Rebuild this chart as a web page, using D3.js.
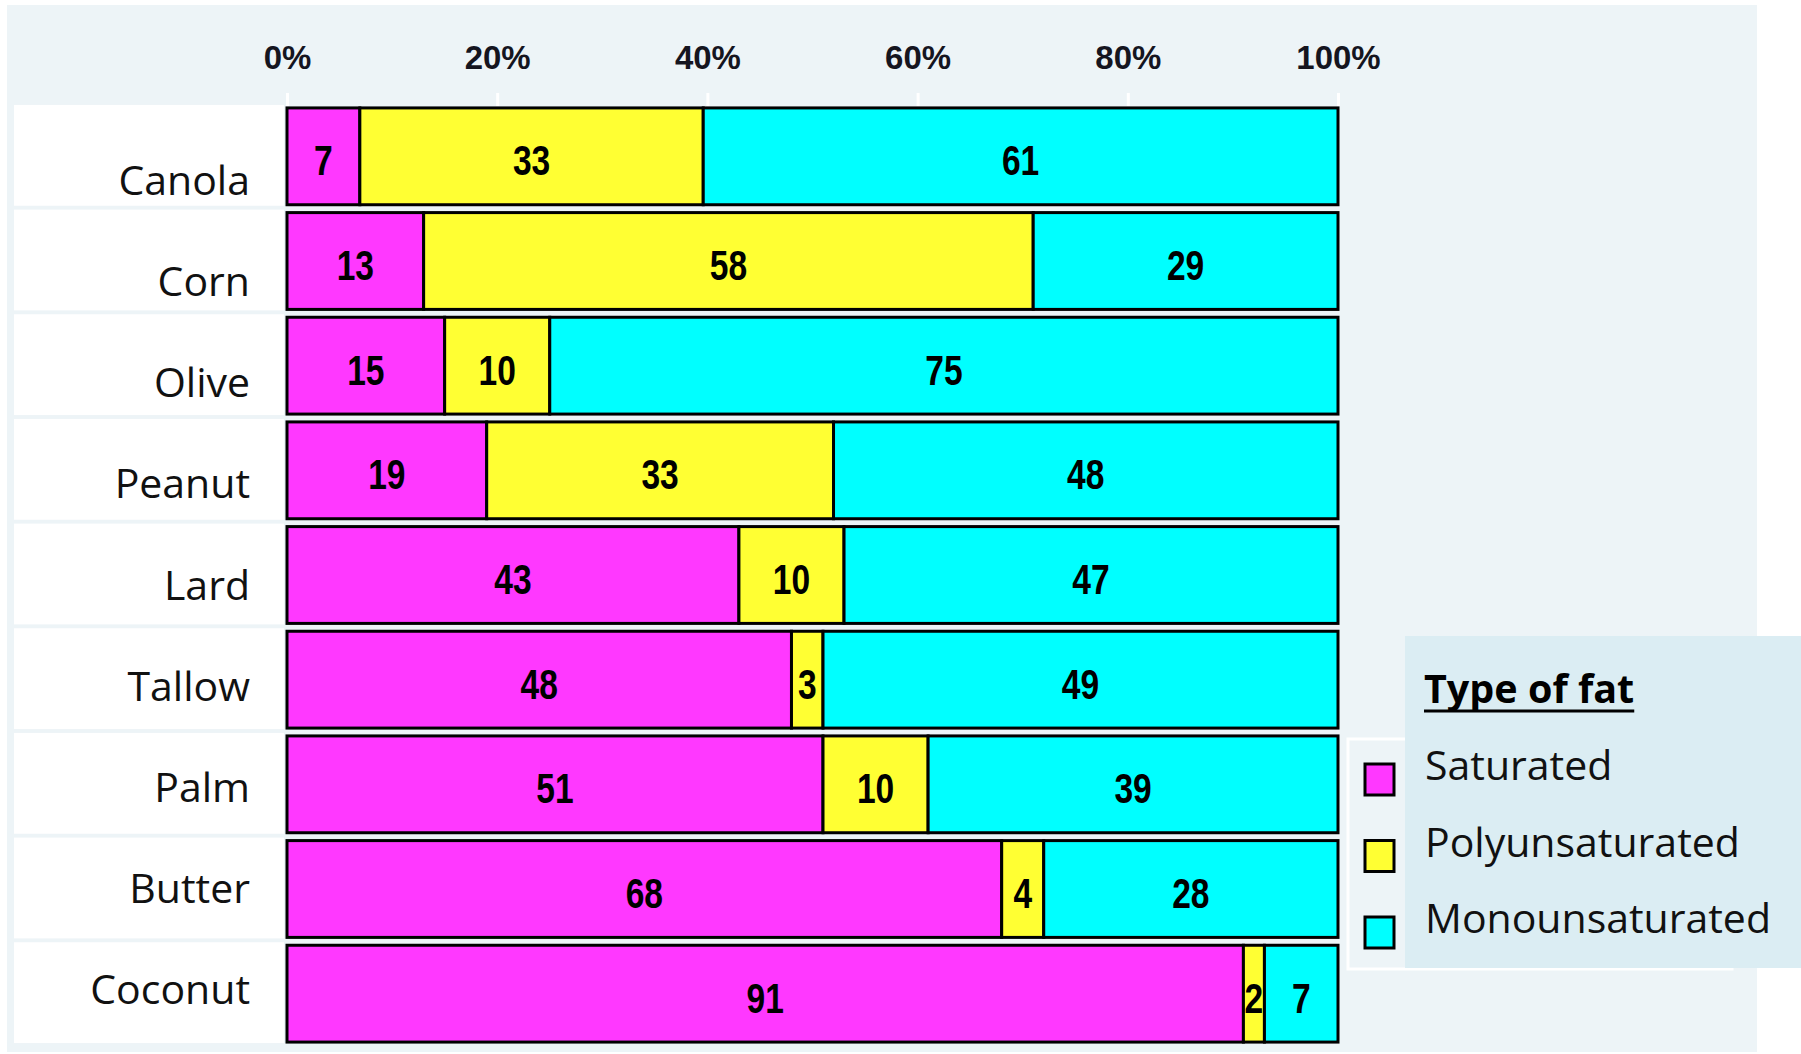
<!DOCTYPE html>
<html><head><meta charset="utf-8">
<script src="https://cdn.jsdelivr.net/npm/d3@7"></script>
<style>body{margin:0;background:#fff}svg{display:block}</style>
</head><body>
<svg id="c" width="1801" height="1054"></svg>
<script>
const categories = ["Canola","Corn","Olive","Peanut","Lard","Tallow","Palm","Butter","Coconut"];
const saturated = [7,13,15,19,43,48,51,68,91];
const polyunsaturated = [33,58,10,33,10,3,10,4,2];
const monounsaturated = [61,29,75,48,47,49,39,28,7];
const seriesNames = ["Saturated","Polyunsaturated","Monounsaturated"];
const seriesColors = ["#ff38ff","#ffff33","#00ffff"];
const tickValues = [0,0.2,0.4,0.6,0.8,1];
const tickLabels = ["0%","20%","40%","60%","80%","100%"];
const legendTitle = "Type of fat";

const seriesValues = [saturated, polyunsaturated, monounsaturated];
const rows = categories.map((c,i)=>{
  const r = {category:c};
  seriesNames.forEach((s,j)=>r[s]=seriesValues[j][i]);
  return r;
});

const svg = d3.select("#c");
const x = d3.scaleLinear().domain([0,1]).range([287,1338]);
const y = d3.scaleBand().domain(categories).range([104,1046]).paddingInner(0.075).paddingOuter(0.0375);
const yl = d3.scalePoint().domain(categories).range([195,1004]);
const color = d3.scaleOrdinal().domain(seriesNames).range(seriesColors);

// panel background
svg.append("rect").attr("x",7).attr("y",5).attr("width",1750).attr("height",1047).attr("fill","#edf4f7");

// label cells
svg.append("g").selectAll("rect").data(categories).join("rect")
  .attr("x",14).attr("width",270)
  .attr("y",d=>y(d)-3).attr("height",y.bandwidth()+4)
  .attr("fill","#ffffff");

// category labels
svg.append("g").selectAll("text").data(categories).join("text")
  .attr("x",250).attr("y",d=>yl(d))
  .attr("text-anchor","end")
  .attr("font-family","'Open Sans', sans-serif").attr("font-size",41)
  .attr("fill","#111").text(d=>d);

// axis
const axis = d3.axisTop(x).tickValues(tickValues).tickFormat((d,i)=>tickLabels[i]).tickSize(13).tickPadding(24);
const ag = svg.append("g").attr("transform","translate(0,106)").call(axis);
ag.select(".domain").remove();
ag.selectAll(".tick line").attr("stroke","#ffffff").attr("stroke-width",3);
ag.selectAll(".tick text")
  .attr("font-family","'Liberation Sans', Arial, sans-serif").attr("font-weight","bold")
  .attr("font-size",34).attr("fill","#15151f").attr("transform","scale(0.97,1)");

// bars
const stack = d3.stack().keys(seriesNames).offset(d3.stackOffsetExpand);
const stacked = stack(rows);
const gs = svg.append("g").selectAll("g").data(stacked).join("g").attr("fill",d=>color(d.key));
gs.selectAll("rect").data(d=>d.map(p=>({p, key:d.key}))).join("rect")
  .attr("x",d=>x(d.p[0])).attr("width",d=>x(d.p[1])-x(d.p[0]))
  .attr("y",d=>y(d.p.data.category)).attr("height",y.bandwidth())
  .attr("stroke","#000").attr("stroke-width",3);

// value labels
const lg = svg.append("g");
stacked.forEach(s=>{
  lg.selectAll(null).data(s).join("text")
    .attr("transform",d=>`translate(${x((d[0]+d[1])/2)},${y(d.data.category)+y.bandwidth()/2+19}) scale(0.78,1)`)
    .attr("text-anchor","middle")
    .attr("font-family","'Liberation Sans', Arial, sans-serif").attr("font-weight","bold")
    .attr("font-size",43).attr("fill","#000")
    .text(d=>d.data[s.key]);
});

// legend
svg.append("rect").attr("x",1348).attr("y",739).attr("width",384).attr("height",230)
  .attr("fill","#edf4f7").attr("stroke","#ffffff").attr("stroke-width",3);
svg.append("rect").attr("x",1405).attr("y",636).attr("width",396).attr("height",332).attr("fill","#dbedf3");
const title = svg.append("text").attr("x",1424).attr("y",703)
  .attr("font-family","'Open Sans', sans-serif").attr("font-weight","bold").attr("font-size",39.5)
  .attr("fill","#000").text(legendTitle);
const tw = title.node().getComputedTextLength();
svg.append("line").attr("x1",1424).attr("x2",1424+tw).attr("y1",711).attr("y2",711)
  .attr("stroke","#000").attr("stroke-width",3);
const ly = d3.scalePoint().domain(seriesNames).range([780,933]);
svg.append("g").selectAll("rect").data(seriesNames).join("rect")
  .attr("x",1365).attr("y",d=>ly(d)-16).attr("width",29).attr("height",31)
  .attr("fill",d=>color(d)).attr("stroke","#000").attr("stroke-width",3);
svg.append("g").selectAll("text").data(seriesNames).join("text")
  .attr("x",1425).attr("y",d=>ly(d))
  .attr("font-family","'Open Sans', sans-serif").attr("font-size",41)
  .attr("fill","#111").text(d=>d);
</script>
</body></html>
